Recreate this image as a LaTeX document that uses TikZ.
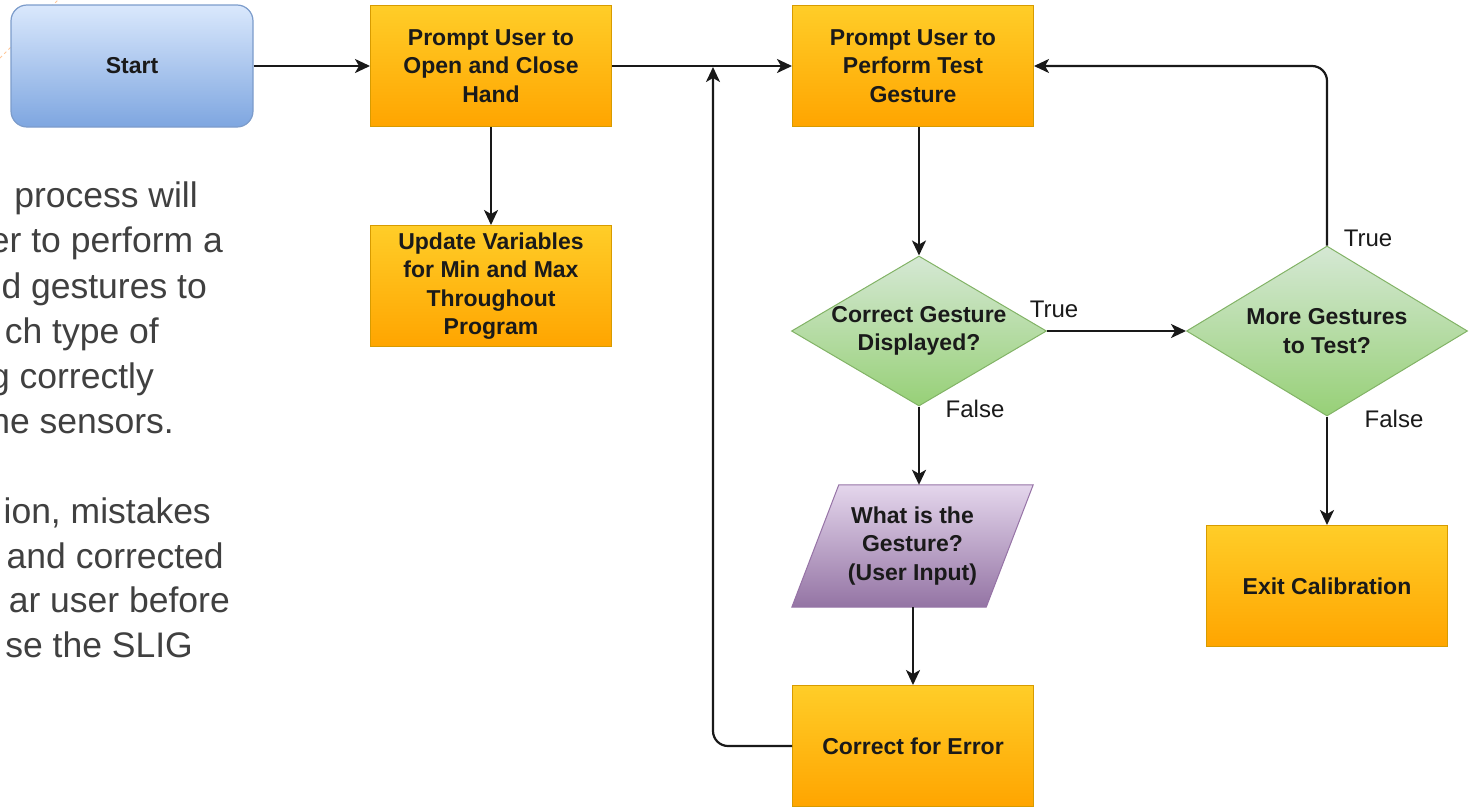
\documentclass[tikz,border=0pt]{standalone}
\usepackage{fontspec}
\setmainfont{Liberation Sans}
\usetikzlibrary{shapes.geometric,arrows.meta,calc}

\definecolor{orgTop}{HTML}{FFCD28}
\definecolor{orgBot}{HTML}{FFA500}
\definecolor{orgLine}{HTML}{D79B00}
\definecolor{bluTop}{HTML}{DAE8FC}
\definecolor{bluBot}{HTML}{7EA6E0}
\definecolor{bluLine}{HTML}{7C9CCB}
\definecolor{grnTop}{HTML}{D5E8D4}
\definecolor{grnBot}{HTML}{97D077}
\definecolor{grnLine}{HTML}{82B366}
\definecolor{purTop}{HTML}{E4D6EC}
\definecolor{purBot}{HTML}{9474A4}
\definecolor{purLine}{HTML}{9673A6}
\definecolor{txt}{HTML}{1A1A1A}
\definecolor{paraTxt}{HTML}{404040}
\definecolor{faintOrg}{HTML}{FFC89A}

\begin{document}
\begin{tikzpicture}[x=1pt,y=-1pt,
  boxtext/.style={align=center, text=txt, font=\fontsize{23}{28.5}\selectfont\bfseries},
  procbox/.style={boxtext, draw=orgLine, line width=1pt, top color=orgTop, bottom color=orgBot,
    minimum width=241pt, minimum height=121pt, inner sep=0pt},
  startbox/.style={boxtext, draw=bluLine, line width=1.2pt, top color=bluTop, bottom color=bluBot,
    rounded corners=16pt, minimum width=242pt, minimum height=122pt, inner sep=0pt},
  decision/.style={diamond, draw=grnLine, line width=1pt, top color=grnTop, bottom color=grnBot,
    inner sep=0pt},
  inputarea/.style={minimum width=241pt, minimum height=122pt, inner sep=0pt},
  lbl/.style={text=txt, font=\fontsize{24}{28}\selectfont, inner sep=0pt},
  para/.style={text=paraTxt, font=\fontsize{35.5}{42}\selectfont, inner sep=0pt, anchor=base east},
  conn/.style={line width=2.2pt, draw=black!90, -{Stealth[length=15pt, width=14pt, inset=4pt]}},
]
\useasboundingbox (0,0) rectangle (1472,806);

% faint dashed guide behind the start box
\draw[faintOrg, line width=0.8pt, dash pattern=on 3pt off 3pt] (0,58) -- (58,0);

% explanatory paragraph, running off the left edge
\node[para] (l1) at (198,207) {process will};
\node[para] (l2) at (223,252) {er to perform a};
\node[para] (l3) at (207,298) {d gestures to};
\node[para] (l4) at (159,343) {ch type of};
\node[para] (l5) at (154,388) {g correctly};
\node[para] (l6) at (174,433) {he sensors.};
\node[para] (l7) at (211,523) {ion, mistakes};
\node[para] (l8) at (224,568) {and corrected};
\node[para] (l9) at (230,612) {ar user before};
\node[para] (l10) at (193,657) {se the SLIG};

% process blocks
\node[startbox] (start) at (132,66) {Start};
\node[procbox] (p1) at (491,66) {Prompt User to\\Open and Close\\Hand};
\node[procbox] (upd) at (491,286) {Update Variables\\for Min and Max\\Throughout\\Program};
\node[procbox] (p2) at (913,66) {Prompt User to\\Perform Test\\Gesture};
\node[procbox] (exit) at (1327,586) {Exit Calibration};
\node[procbox] (err) at (913,746) {Correct for Error};

% decisions
\node[decision, minimum width=255pt, minimum height=150pt,
  label={[boxtext]center:{Correct Gesture\\Displayed?}}] (d1) at (919,331) {};
\node[decision, minimum width=281pt, minimum height=170pt,
  label={[boxtext]center:{More Gestures\\to Test?}}] (d2) at (1327,331) {};

% user input (parallelogram)
\node[inputarea] (inp) at (912.5,546) {};
\path[draw=purLine, line width=1pt, top color=purTop, bottom color=purBot]
  ($(inp.north west)+(47,0)$) -- (inp.north east) -- ($(inp.south east)-(47,0)$)
  -- (inp.south west) -- cycle;
\node[boxtext] (inptext) at (inp.center) {What is the\\Gesture?\\(User Input)};

% connectors
\coordinate (merge) at (713,66);
\draw[conn] (start) -- (p1);
\draw[conn] (p1) -- (p2);
\draw[conn] (p1) -- (upd);
\draw[conn] (p2.south -| d1.north) -- (d1.north);
\draw[conn] (d1.south) -- (d1.south |- inp.north);
\draw[conn] (inp.south -| err.north) -- (err.north);
\draw[conn] (d1.east) -- (d2.west);
\draw[conn, rounded corners=15pt] (d2.north) |- (p2.east);
\draw[conn] (d2.south) -- (exit.north);
\draw[conn, rounded corners=15pt, shorten >=1pt] (err.west) -| (merge);

% branch labels
\node[lbl] (t1) at (1054,309) {True};
\node[lbl] (f1) at (975,409) {False};
\node[lbl] (t2) at (1368,238) {True};
\node[lbl] (f2) at (1394,419) {False};
\end{tikzpicture}
\end{document}
